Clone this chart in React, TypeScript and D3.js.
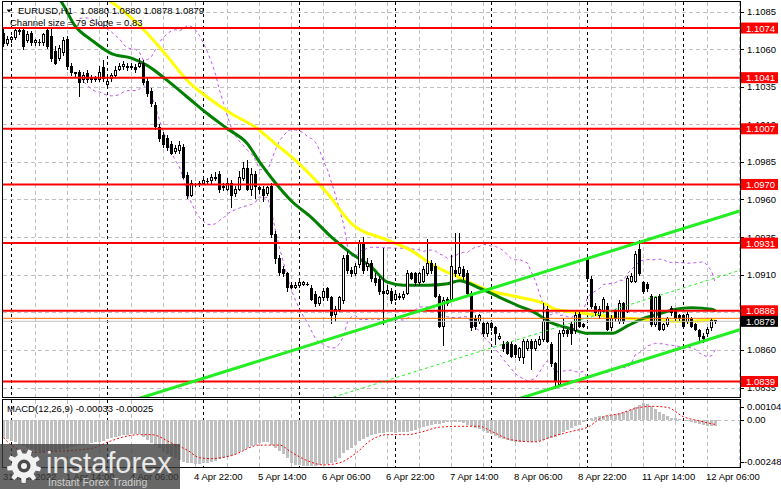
import React from "react";
import * as d3 from "d3";

const W = 781;
const HT = 489;

// ---------- DATA (EURUSD H1) ----------
const opens = [
  1.1071,1.1064,1.1067,1.1068,1.1073,1.1073,1.1066,1.1071,1.1065,1.1065,
  1.1065,1.1073,1.1069,1.1059,1.1054,1.1058,1.1067,1.1049,1.1045,1.1045,
  1.1040,1.1044,1.1041,1.1041,1.1040,1.1048,1.1037,1.1041,1.1043,1.1047,
  1.1049,1.1049,1.1049,1.1048,1.1049,1.1051,1.1039,1.1032,1.1023,1.1008,
  1.1003,1.1001,1.0997,1.0992,1.0993,1.0995,1.0976,1.0963,1.0970,1.0970,
  1.0971,1.0972,1.0973,1.0974,1.0977,1.0969,1.0967,1.0971,1.0964,1.0967,
  1.0974,1.0981,1.0967,1.0977,1.0968,1.0967,1.0964,1.0969,1.0937,1.0921,
  1.0914,1.0911,1.0903,1.0902,1.0903,1.0904,1.0904,1.0901,1.0897,1.0891,
  1.0895,1.0901,1.0895,1.0884,1.0887,1.0893,1.0923,1.0913,1.0911,1.0917,
  1.0931,1.0916,1.0918,1.0908,1.0907,1.0899,1.0898,1.0899,1.0894,1.0896,
  1.0895,1.0898,1.0911,1.0911,1.0905,1.0906,1.0911,1.0918,1.0916,1.0896,
  1.0876,1.0894,1.0894,1.0913,1.0911,1.0914,1.0911,1.0898,1.0881,1.0879,
  1.0878,1.0871,1.0878,1.0875,1.0868,1.0864,1.0865,1.0864,1.0863,1.0855,
  1.0855,1.0861,1.0866,1.0861,1.0864,1.0867,1.0887,1.0864,1.0851,1.0837,
  1.0871,1.0873,1.0877,1.0873,1.0884,1.0877,1.0921,1.0907,1.0889,1.0883,
  1.0886,1.0889,1.0875,1.0886,1.0879,1.0891,1.0886,1.0906,1.0906,1.0927,
  1.0905,1.0904,1.0896,1.0877,1.0896,1.0874,1.0877,1.0888,1.0886,1.0883,
  1.0883,1.0879,1.0881,1.0877,1.0873,1.0869,1.0871,1.0875,1.0880,
];
const highs = [
  1.1074,1.1069,1.1069,1.1075,1.1075,1.1075,1.1072,1.1072,1.1067,1.1067,
  1.1071,1.1075,1.1074,1.1062,1.1063,1.1068,1.1069,1.1051,1.1045,1.1046,
  1.1045,1.1046,1.1043,1.1042,1.1049,1.1053,1.1042,1.1044,1.1049,1.1051,
  1.1052,1.1051,1.1051,1.1050,1.1054,1.1053,1.1041,1.1034,1.1025,1.1010,
  1.1005,1.1003,1.0999,1.0996,1.0999,1.0997,1.0978,1.0973,1.0971,1.0972,
  1.0975,1.0974,1.0977,1.0978,1.0979,1.0971,1.0974,1.0973,1.0969,1.0979,
  1.0985,1.0986,1.0981,1.0979,1.0969,1.0969,1.0969,1.0971,1.0939,1.0923,
  1.0916,1.0912,1.0905,1.0905,1.0906,1.0906,1.0905,1.0903,1.0899,1.0896,
  1.0901,1.0902,1.0896,1.0889,1.0896,1.0923,1.0926,1.0915,1.0918,1.0933,
  1.0935,1.0921,1.0920,1.0911,1.0909,1.0928,1.0903,1.0901,1.0899,1.0898,
  1.0899,1.0913,1.0912,1.0912,1.0912,1.0916,1.0934,1.0920,1.0918,1.0897,
  1.0895,1.0895,1.0923,1.0938,1.0938,1.0916,1.0913,1.0899,1.0883,1.0884,
  1.0879,1.0879,1.0879,1.0876,1.0871,1.0866,1.0866,1.0865,1.0864,1.0862,
  1.0867,1.0867,1.0867,1.0867,1.0869,1.0891,1.0889,1.0865,1.0852,1.0873,
  1.0881,1.0874,1.0879,1.0885,1.0885,1.0878,1.0923,1.0909,1.0891,1.0889,
  1.0895,1.0891,1.0883,1.0887,1.0893,1.0892,1.0909,1.0911,1.0926,1.0933,
  1.0906,1.0905,1.0897,1.0896,1.0897,1.0878,1.0882,1.0889,1.0887,1.0884,
  1.0884,1.0885,1.0882,1.0878,1.0874,1.0871,1.0875,1.0881,1.0880,
];
const lows = [
  1.1062,1.1063,1.1065,1.1067,1.1070,1.1060,1.1065,1.1063,1.1063,1.1063,
  1.1063,1.1061,1.1052,1.1050,1.1053,1.1056,1.1047,1.1043,1.1042,1.1029,
  1.1038,1.1038,1.1038,1.1039,1.1039,1.1039,1.1035,1.1039,1.1042,1.1046,
  1.1047,1.1046,1.1047,1.1045,1.1048,1.1037,1.1029,1.1022,1.1007,1.0999,
  1.0995,1.0993,1.0990,1.0991,1.0991,1.0974,1.0961,1.0962,1.0969,1.0969,
  1.0970,1.0971,1.0971,1.0973,1.0965,1.0966,1.0966,1.0955,1.0962,1.0966,
  1.0973,1.0966,1.0963,1.0961,1.0964,1.0959,1.0963,1.0935,1.0918,1.0910,
  1.0909,1.0899,1.0901,1.0901,1.0902,1.0903,1.0903,1.0893,1.0889,1.0890,
  1.0893,1.0893,1.0878,1.0879,1.0886,1.0891,1.0911,1.0909,1.0910,1.0915,
  1.0911,1.0913,1.0906,1.0903,1.0897,1.0877,1.0897,1.0891,1.0893,1.0894,
  1.0894,1.0897,1.0907,1.0903,1.0903,1.0905,1.0910,1.0911,1.0895,1.0875,
  1.0863,1.0890,1.0893,1.0909,1.0910,1.0907,1.0897,1.0873,1.0874,1.0878,
  1.0869,1.0869,1.0873,1.0864,1.0867,1.0859,1.0857,1.0855,1.0855,1.0853,
  1.0851,1.0860,1.0847,1.0860,1.0863,1.0866,1.0865,1.0849,1.0835,1.0836,
  1.0869,1.0869,1.0864,1.0871,1.0875,1.0875,1.0906,1.0888,1.0883,1.0881,
  1.0885,1.0873,1.0873,1.0879,1.0878,1.0878,1.0885,1.0905,1.0905,1.0910,
  1.0898,1.0899,1.0876,1.0876,1.0873,1.0873,1.0876,1.0883,1.0880,1.0880,
  1.0875,1.0878,1.0875,1.0873,1.0866,1.0865,1.0869,1.0873,1.0878,
];
const closes = [
  1.1064,1.1067,1.1068,1.1073,1.1072,1.1062,1.1070,1.1065,1.1066,1.1065,
  1.1070,1.1062,1.1054,1.1051,1.1061,1.1066,1.1049,1.1045,1.1044,1.1038,
  1.1043,1.1040,1.1040,1.1040,1.1045,1.1041,1.1039,1.1043,1.1046,1.1049,
  1.1050,1.1048,1.1048,1.1047,1.1051,1.1038,1.1031,1.1024,1.1009,1.1001,
  1.0997,1.0995,1.0991,1.0994,1.0996,1.0975,1.0963,1.0971,1.0970,1.0971,
  1.0973,1.0972,1.0975,1.0975,1.0967,1.0968,1.0971,1.0963,1.0967,1.0975,
  1.0981,1.0967,1.0977,1.0969,1.0967,1.0963,1.0968,1.0937,1.0921,1.0912,
  1.0911,1.0902,1.0902,1.0903,1.0905,1.0905,1.0904,1.0894,1.0891,1.0895,
  1.0899,1.0895,1.0883,1.0887,1.0895,1.0921,1.0913,1.0911,1.0916,1.0931,
  1.0913,1.0918,1.0908,1.0905,1.0899,1.0898,1.0900,1.0893,1.0897,1.0895,
  1.0897,1.0911,1.0908,1.0905,1.0911,1.0914,1.0918,1.0913,1.0896,1.0876,
  1.0893,1.0891,1.0916,1.0911,1.0915,1.0909,1.0898,1.0875,1.0876,1.0883,
  1.0871,1.0878,1.0875,1.0871,1.0869,1.0861,1.0858,1.0856,1.0857,1.0861,
  1.0866,1.0866,1.0861,1.0866,1.0867,1.0879,1.0866,1.0851,1.0839,1.0871,
  1.0873,1.0871,1.0871,1.0883,1.0876,1.0876,1.0908,1.0889,1.0885,1.0887,
  1.0894,1.0874,1.0881,1.0881,1.0891,1.0879,1.0908,1.0909,1.0924,1.0911,
  1.0899,1.0901,1.0877,1.0895,1.0874,1.0877,1.0881,1.0885,1.0881,1.0881,
  1.0876,1.0884,1.0876,1.0874,1.0869,1.0868,1.0874,1.0880,1.0879,
];

// MACD(12,26,9) main values (histogram), one per bar
const macdMain = [
  -0.00095,-0.00100,-0.00110,-0.00115,-0.00130,-0.00140,-0.00150,-0.00155,-0.00160,-0.00165,
  -0.00170,-0.00170,-0.00168,-0.00165,-0.00160,-0.00155,-0.00150,-0.00145,-0.00140,-0.00135,
  -0.00130,-0.00125,-0.00120,-0.00118,-0.00115,-0.00112,-0.00100,-0.00095,-0.00090,-0.00085,
  -0.00080,-0.00078,-0.00075,-0.00074,-0.00075,-0.00090,-0.00105,-0.00120,-0.00135,-0.00150,
  -0.00165,-0.00180,-0.00190,-0.00200,-0.00210,-0.00220,-0.00225,-0.00228,-0.00230,-0.00230,
  -0.00228,-0.00225,-0.00220,-0.00215,-0.00208,-0.00200,-0.00195,-0.00190,-0.00180,-0.00170,
  -0.00160,-0.00150,-0.00140,-0.00130,-0.00120,-0.00115,-0.00118,-0.00133,-0.00150,-0.00165,
  -0.00180,-0.00200,-0.00225,-0.00235,-0.00240,-0.00243,-0.00245,-0.00245,-0.00243,-0.00238,
  -0.00232,-0.00230,-0.00228,-0.00222,-0.00200,-0.00175,-0.00160,-0.00148,-0.00130,-0.00112,
  -0.00100,-0.00088,-0.00080,-0.00074,-0.00070,-0.00067,-0.00066,-0.00066,-0.00067,-0.00066,
  -0.00065,-0.00062,-0.00060,-0.00055,-0.00045,-0.00036,-0.00030,-0.00025,-0.00022,-0.00020,
  -0.00015,-0.00012,-0.00010,-0.00010,-0.00012,-0.00018,-0.00025,-0.00034,-0.00042,-0.00050,
  -0.00058,-0.00067,-0.00075,-0.00085,-0.00094,-0.00102,-0.00108,-0.00113,-0.00116,-0.00116,
  -0.00115,-0.00114,-0.00116,-0.00115,-0.00112,-0.00105,-0.00100,-0.00095,-0.00090,-0.00080,
  -0.00065,-0.00055,-0.00045,-0.00035,-0.00025,-0.00012,0.00005,0.00010,0.00015,0.00020,
  0.00022,0.00022,0.00025,0.00028,0.00035,0.00042,0.00048,0.00055,0.00068,0.00080,
  0.00088,0.00085,0.00070,0.00055,0.00042,0.00030,0.00020,0.00012,0.00008,0.00005,
  0.00000,-0.00008,-0.00012,-0.00015,-0.00022,-0.00028,-0.00032,-0.00035,-0.00033,
];
// MACD signal line, read at sample bars
const signalBars = [0,2,7,14,22,27,30,34,37,42,46,49,52,57,64,69,72,76,80,84,88,92,96,101,104,109,114,119,122,127,133,137,142,146,150,154,158,162,166,170,174,178];
const signalValues = [-0.00094,-0.00133,-0.00171,-0.00165,-0.00150,-0.00110,-0.00090,-0.00078,-0.00078,-0.00122,-0.00160,-0.00199,-0.00204,-0.00188,-0.00133,-0.00133,-0.00171,-0.00215,-0.00237,-0.00226,-0.00177,-0.00105,-0.00078,-0.00078,-0.00067,-0.00039,-0.00034,-0.00034,-0.00061,-0.00105,-0.00116,-0.00089,-0.00061,-0.00039,0.00016,0.00032,0.00060,0.00071,0.00065,0.00016,-0.00006,-0.00025];

// Slow MA (yellow) and fast MA (green), read at sample bars
const slowMaBars = [24,26,35,41,46,51,57,63,68,73,81,87,96,102,107,114,122,129,135,138,143,152,161,171,178];
const slowMaValues = [1.1096,1.1093,1.1073,1.1055,1.1039,1.1028,1.1017,1.1008,1.0997,1.0986,1.0964,1.0944,1.0933,1.0926,1.0917,1.0908,1.0899,1.0895,1.0891,1.0887,1.0885,1.0882,1.0880,1.0879,1.0880];
const fastMaBars = [12,14,18,22,27,32,36,41,46,51,56,61,64,68,72,77,82,87,92,96,100,106,111,114,119,124,129,132,137,142,146,152,156,160,164,168,172,177,178];
const fastMaValues = [1.1097,1.1093,1.1075,1.1066,1.1057,1.1054,1.1049,1.1039,1.1028,1.1017,1.1007,1.0997,1.0985,1.0971,1.0959,1.0948,1.0935,1.0924,1.0915,1.0905,1.0903,1.0903,1.0904,1.0906,1.0901,1.0895,1.0889,1.0886,1.0878,1.0874,1.0871,1.0871,1.0876,1.0881,1.0884,1.0887,1.0888,1.0887,1.0886];

// Regression channel: size 79 pips, slope 0.83 pips/bar
const channelAnchorBar = 139;
const channelAnchorPrice = 1.0915;
const channelSlope = 0.000083;
const channelSize = 0.0079;

const levelPrices = [1.1074, 1.1041, 1.1007, 1.0970, 1.0931, 1.0886, 1.0839];
const priceTicks = [1.1085, 1.1060, 1.1035, 1.1010, 1.0985, 1.0960, 1.0935, 1.0910, 1.0885, 1.0860, 1.0835];
const bidPrice = 1.0879;
const askPrice = 1.0881;
const macdTicks = [0.00104, 0.0, -0.00248];
const timeLabels = ["31 Mar 2022","1 Apr 14:00","4 Apr 06:00","4 Apr 22:00","5 Apr 14:00","6 Apr 06:00","6 Apr 22:00","7 Apr 14:00","8 Apr 06:00","8 Apr 22:00","11 Apr 14:00","12 Apr 06:00"];
const timeLabelBars = [0,16,32,48,64,80,96,112,128,144,160,176];
const daySeparatorBars = [2,26,50,74,98,122,146,170];
const gridBars = [8,16,24,32,40,48,56,64,72,80,88,96,104,112,120,128,136,144,152,160,168,176,184];

const FONT = "'Liberation Sans', Arial, sans-serif";

function gearPath(cx: number, cy: number, ro: number, ri: number, n: number) {
  const pts: [number, number][] = [];
  for (let k = 0; k < n; k++) {
    const a = (k / n) * Math.PI * 2;
    const s = (Math.PI * 2) / n;
    const seq = [
      [a, ri], [a + s * 0.12, ro], [a + s * 0.45, ro], [a + s * 0.57, ri],
    ];
    seq.forEach(([ang, r]) => pts.push([cx + r * Math.cos(ang), cy + r * Math.sin(ang)]));
  }
  return "M" + pts.map((p) => p.join(",")).join("L") + "Z";
}

export default function App() {
  const L = 2.5, R = 740.5, T = 1.5, B = 397.5, MT = 399.5, MB = 467.5;
  const x = d3.scaleLinear().domain([0, 1]).range([3.5, 7.5]);
  const y = d3.scaleLinear().domain([1.0835, 1.1085]).range([387.5, 11.5]);
  const ym = d3.scaleLinear().domain([-0.00248, 0.00104]).range([467, 400]);

  const lineP = d3.line<[number, number]>().x((d) => x(d[0])).y((d) => y(d[1])).curve(d3.curveMonotoneX);
  const lineM = d3.line<[number, number]>().x((d) => x(d[0])).y((d) => ym(d[1])).curve(d3.curveMonotoneX);
  const lineStraight = d3.line<[number, number]>().x((d) => x(d[0])).y((d) => y(d[1]));

  const slowPts = slowMaBars.map((b, i) => [b, slowMaValues[i]] as [number, number]);
  const fastPts = fastMaBars.map((b, i) => [b, fastMaValues[i]] as [number, number]);
  const sigPts = signalBars.map((b, i) => [b, signalValues[i]] as [number, number]);

  // Bollinger bands (20, 2) from closes
  const upperBand: [number, number][] = [];
  const lowerBand: [number, number][] = [];
  for (let i = 19; i < closes.length; i++) {
    const win = closes.slice(i - 19, i + 1);
    const m = d3.mean(win) as number;
    const sd = Math.sqrt(d3.mean(win.map((v) => (v - m) * (v - m))) as number);
    upperBand.push([i, m + 2 * sd]);
    lowerBand.push([i, m - 2 * sd]);
  }

  const chan = (off: number): [number, number][] => [
    [-2, channelAnchorPrice + channelSlope * (-2 - channelAnchorBar) - off],
    [186, channelAnchorPrice + channelSlope * (186 - channelAnchorBar) - off],
  ];

  const labelY = (v: number) => Math.max(406.5, Math.min(461.5, ym(v)));

  return (
    <svg width={W} height={HT} style={{ position: "absolute", left: 0, top: 0, display: "block" }} fontFamily={FONT}>
      <defs>
        <clipPath id="mainClip"><rect x={3} y={2} width={737} height={395} /></clipPath>
        <clipPath id="macdClip"><rect x={3} y={400} width={737} height={67} /></clipPath>
      </defs>
      <rect x={0} y={0} width={W} height={HT} fill="#fff" />

      {/* grid */}
      <g stroke="#c0c0c0" strokeDasharray="4,3" shapeRendering="crispEdges">
        {priceTicks.map((p) => (
          <line key={"h" + p} x1={3} x2={740} y1={Math.round(y(p)) + 0.5} y2={Math.round(y(p)) + 0.5} />
        ))}
        {gridBars.filter((b) => x(b) < 740).map((b) => (
          <g key={"v" + b}>
            <line x1={x(b)} x2={x(b)} y1={2} y2={397} />
            <line x1={x(b)} x2={x(b)} y1={400} y2={467} />
          </g>
        ))}
        <line x1={3} x2={740} y1={Math.round(ym(0)) + 0.5} y2={Math.round(ym(0)) + 0.5} />
      </g>
      <g stroke="#000" strokeDasharray="3,3" shapeRendering="crispEdges">
        {daySeparatorBars.map((b) => (
          <g key={"s" + b}>
            <line x1={x(b)} x2={x(b)} y1={2} y2={397} />
            <line x1={x(b)} x2={x(b)} y1={400} y2={467} />
          </g>
        ))}
      </g>

      <g clipPath="url(#mainClip)">
        {/* Bollinger bands */}
        <path d={lineStraight(upperBand) || ""} fill="none" stroke="#c050f0" strokeWidth={1} strokeDasharray="3,3" />
        <path d={lineStraight(lowerBand) || ""} fill="none" stroke="#c050f0" strokeWidth={1} strokeDasharray="3,3" />
        {/* moving averages */}
        <path d={lineP(slowPts) || ""} fill="none" stroke="#ffff00" strokeWidth={3} />
        <path d={lineP(fastPts) || ""} fill="none" stroke="#008000" strokeWidth={3} />

        {/* candles */}
        <g shapeRendering="crispEdges">
          {opens.map((o, i) => {
            const c = closes[i];
            const cx = x(i);
            const yo = Math.round(y(o));
            const yc = Math.round(y(c));
            const top = Math.min(yo, yc);
            const bot = Math.max(yo, yc);
            const bull = c >= o;
            return (
              <g key={"c" + i}>
                <line x1={cx} x2={cx} y1={Math.round(y(highs[i]))} y2={Math.round(y(lows[i])) + 1} stroke="#000" />
                {bot - top < 1 ? (
                  <line x1={cx - 1.5} x2={cx + 1.5} y1={top + 0.5} y2={top + 0.5} stroke="#000" />
                ) : bull ? (
                  <rect x={cx - 1} y={top + 0.5} width={2} height={bot - top} fill="#fff" stroke="#000" />
                ) : (
                  <rect x={cx - 1.5} y={top} width={3} height={bot - top + 1} fill="#000" />
                )}
              </g>
            );
          })}
        </g>

        {/* ask / bid lines */}
        <line x1={3} x2={740} y1={y(askPrice)} y2={y(askPrice)} stroke="#ff6a00" strokeWidth={1} />
        <line x1={3} x2={740} y1={y(bidPrice)} y2={y(bidPrice)} stroke="#c0c0c0" strokeWidth={1} />

        {/* horizontal levels */}
        {levelPrices.map((p) => (
          <line key={"lv" + p} x1={3} x2={740} y1={y(p)} y2={y(p)} stroke="#ff0000" strokeWidth={2} />
        ))}

        {/* regression channel */}
        <path d={lineStraight(chan(0)) || ""} stroke="#22ee22" strokeWidth={3} fill="none" />
        <path d={lineStraight(chan(channelSize)) || ""} stroke="#22ee22" strokeWidth={3} fill="none" />
        <path d={lineStraight(chan(channelSize / 2)) || ""} stroke="#22ee22" strokeWidth={1} strokeDasharray="3,3" fill="none" />
      </g>

      {/* MACD */}
      <g clipPath="url(#macdClip)">
        <g fill="#c0c0c0" shapeRendering="crispEdges">
          {macdMain.map((v, i) => {
            const y0 = ym(0);
            const y1 = ym(v);
            return <rect key={"m" + i} x={x(i) - 1.5} y={Math.min(y0, y1)} width={3} height={Math.max(Math.abs(y1 - y0), 0.5)} />;
          })}
        </g>
        <path d={lineM(sigPts) || ""} fill="none" stroke="#ff0000" strokeWidth={1} strokeDasharray="2,2" />
      </g>

      {/* borders */}
      <g fill="none" stroke="#000" shapeRendering="crispEdges">
        <rect x={L} y={T} width={R - L} height={B - T} />
        <rect x={L} y={MT} width={R - L} height={MB - MT} />
      </g>

      {/* price axis */}
      <g fontSize={9.5} fill="#000">
        {priceTicks.map((p) => (
          <g key={"t" + p}>
            <line x1={741} x2={744} y1={Math.round(y(p)) + 0.5} y2={Math.round(y(p)) + 0.5} stroke="#000" />
            <text x={747} y={y(p) + 3.5}>{p.toFixed(4)}</text>
          </g>
        ))}
        {levelPrices.map((p) => (
          <g key={"lb" + p}>
            <rect x={741} y={y(p) - 5.5} width={37} height={11} fill="#ff0000" />
            <text x={746} y={y(p) + 3.5} fill="#fff">{p.toFixed(4)}</text>
          </g>
        ))}
        <rect x={741} y={y(bidPrice) - 5.5} width={37} height={11} fill="#000" />
        <text x={746} y={y(bidPrice) + 3.5} fill="#fff">{bidPrice.toFixed(4)}</text>
        {macdTicks.map((v) => (
          <g key={"mt" + v}>
            <line x1={741} x2={744} y1={Math.round(labelY(v)) + 0.5} y2={Math.round(labelY(v)) + 0.5} stroke="#000" />
            <text x={v < 0 ? 744 : 747} y={labelY(v) + 3.5}>{v === 0 ? "0.00" : v.toFixed(5)}</text>
          </g>
        ))}
      </g>

      {/* titles */}
      <path d="M6.5,9.5 L11.5,9.5 L9,12.5 Z" fill="#000" />
      <text x={18} y={14} fontSize={9.5} fill="#000">EURUSD,H1</text>
      <text x={80} y={14} fontSize={9.5} fill="#000">1.0880 1.0880 1.0878 1.0879</text>
      <text x={10} y={26} fontSize={9.5} fill="#000">Channel size = 79 Slope = 0.83</text>
      <text x={7} y={412} fontSize={9.5} fill="#000">MACD(12,26,9) -0.00033 -0.00025</text>

      {/* time axis */}
      <g fontSize={9.5} fill="#000">
        {timeLabels.map((t, k) => (
          <text key={t} x={k === 0 ? 3 : x(timeLabelBars[k]) - 1.5} y={480}>{t}</text>
        ))}
      </g>

      {/* logo */}
      <g>
        <rect x={0} y={444} width={180} height={45} fill="rgba(60,60,60,0.78)" />
        <path d={gearPath(24, 466, 17, 12.5, 9)} fill="#f2f2f2" />
        <circle cx={24} cy={466} r={6.5} fill="#4a4a4a" />
        <circle cx={24} cy={466} r={3} fill="#f2f2f2" />
        <text x={46} y={473} fontSize={29} fill="#e8e8e8" fontFamily={FONT}>instaforex</text>
        <text x={48} y={486} fontSize={10.5} fill="#d0d0d0" fontFamily={FONT}>Instant Forex Trading</text>
      </g>
    </svg>
  );
}
